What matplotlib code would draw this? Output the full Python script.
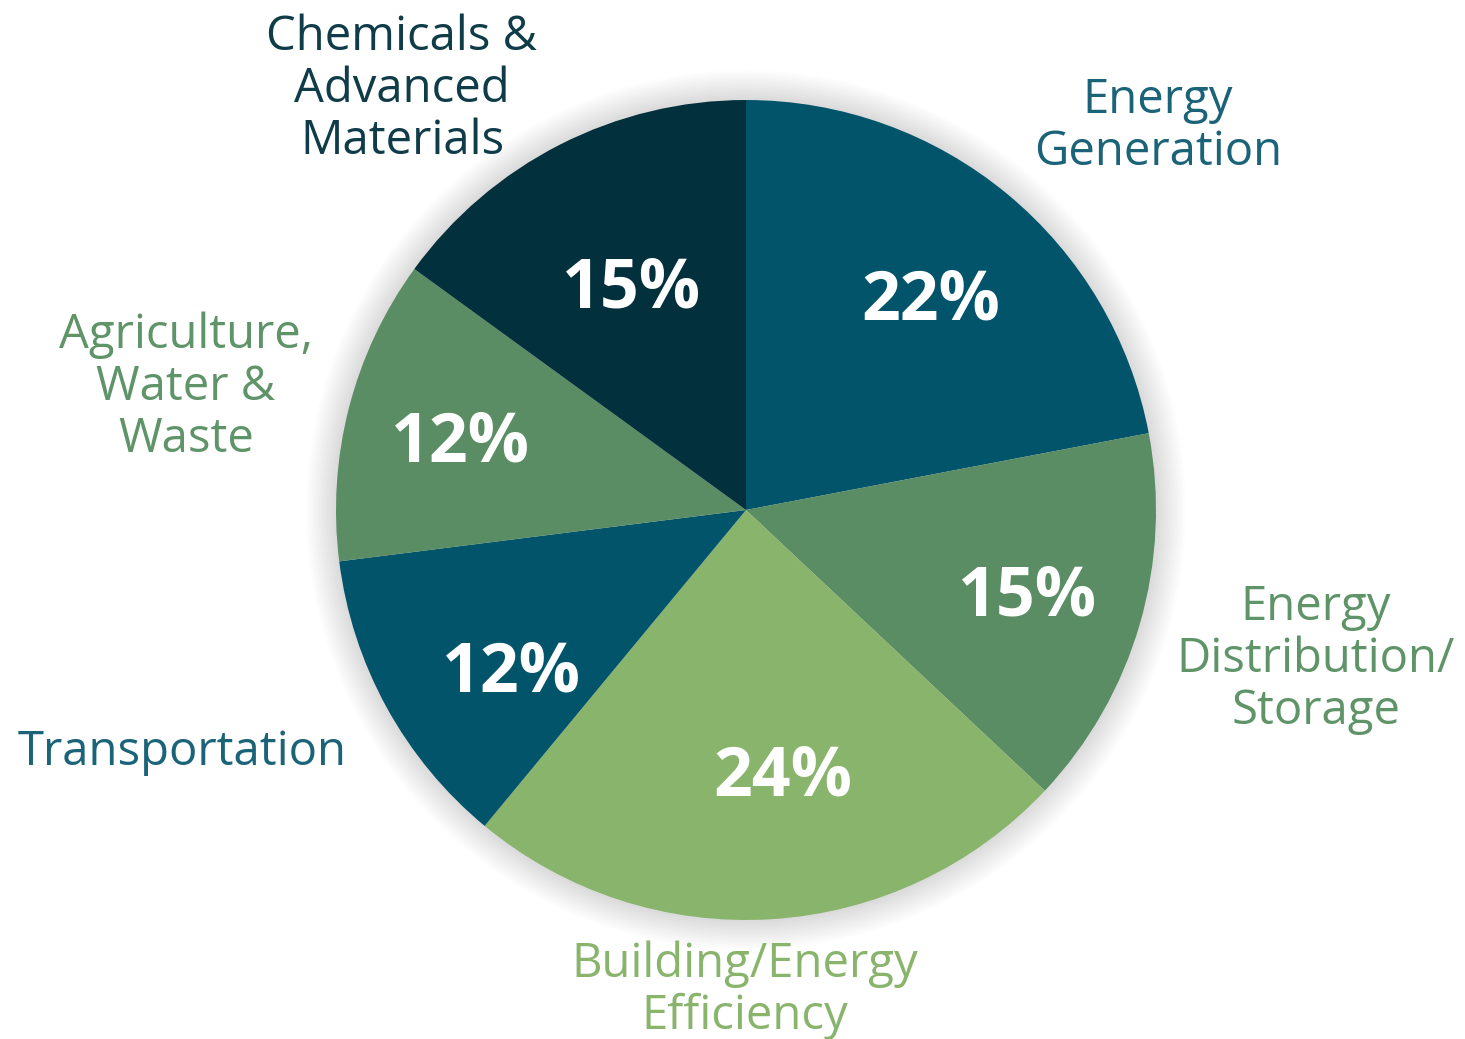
import matplotlib
matplotlib.use("Agg")
import matplotlib.pyplot as plt
from matplotlib.patches import Circle

# Data (clockwise from 12 o'clock)
sectors = ["Energy\nGeneration", "Energy\nDistribution/\nStorage", "Building/Energy\nEfficiency",
           "Transportation", "Agriculture,\nWater &\nWaste", "Chemicals &\nAdvanced\nMaterials"]
shares = [22, 15, 24, 12, 12, 15]

C_TEAL, C_DARK, C_GREEN, C_LIGHT = "#02546b", "#02303c", "#5b8d64", "#89b46c"
colors = [C_TEAL, C_GREEN, C_LIGHT, C_TEAL, C_GREEN, C_DARK]
label_colors = ["#1a6378", "#5f9368", "#89b46c", "#1a6378", "#5f9368", "#0f3c48"]

W, H, R = 1465, 1039, 410
CX, CY = 746, 510


def px(x, y):
    return (x - CX) / R, (CY - y) / R


plt.rcParams["font.family"] = ["Open Sans", "DejaVu Sans"]
fig = plt.figure(figsize=(W / 100, H / 100), dpi=100)
ax = fig.add_axes([0, 0, 1, 1])

# soft shadow round the pie
for i in range(12):
    ax.add_patch(Circle((0, 0.0), 1 + 0.006 * (12 - i), color="#000000", alpha=0.012, lw=0, zorder=0))

wedges, texts, autotexts = ax.pie(shares, colors=colors, startangle=90, counterclock=False,
                                  radius=1, autopct="%d%%", pctdistance=0.69,
                                  wedgeprops=dict(linewidth=0),
                                  textprops=dict(color="white", fontsize=49, fontweight="bold"))
for w in wedges:
    w.set_zorder(2)
pct_pos = [(931, 302), (1028, 598), (783, 778), (511, 674), (460, 443), (632, 290)]
for t, p in zip(autotexts, pct_pos):
    t.set_zorder(3)
    t.set_position(px(*p))

# pie() resets the limits, so set them afterwards
ax.set_xlim(-CX / R, (W - CX) / R)
ax.set_ylim(-(H - CY) / R, CY / R)
ax.axis("off")

label_pos = [(1158, 126), (1316, 659), (745, 990), (182, 752), (186, 387), (402, 89)]
for name, (x, y), c in zip(sectors, label_pos, label_colors):
    ax.text(*px(x, y), name, ha="center", va="center", fontsize=34, color=c,
            linespacing=1.12)

fig.savefig("out.png", dpi=100)
